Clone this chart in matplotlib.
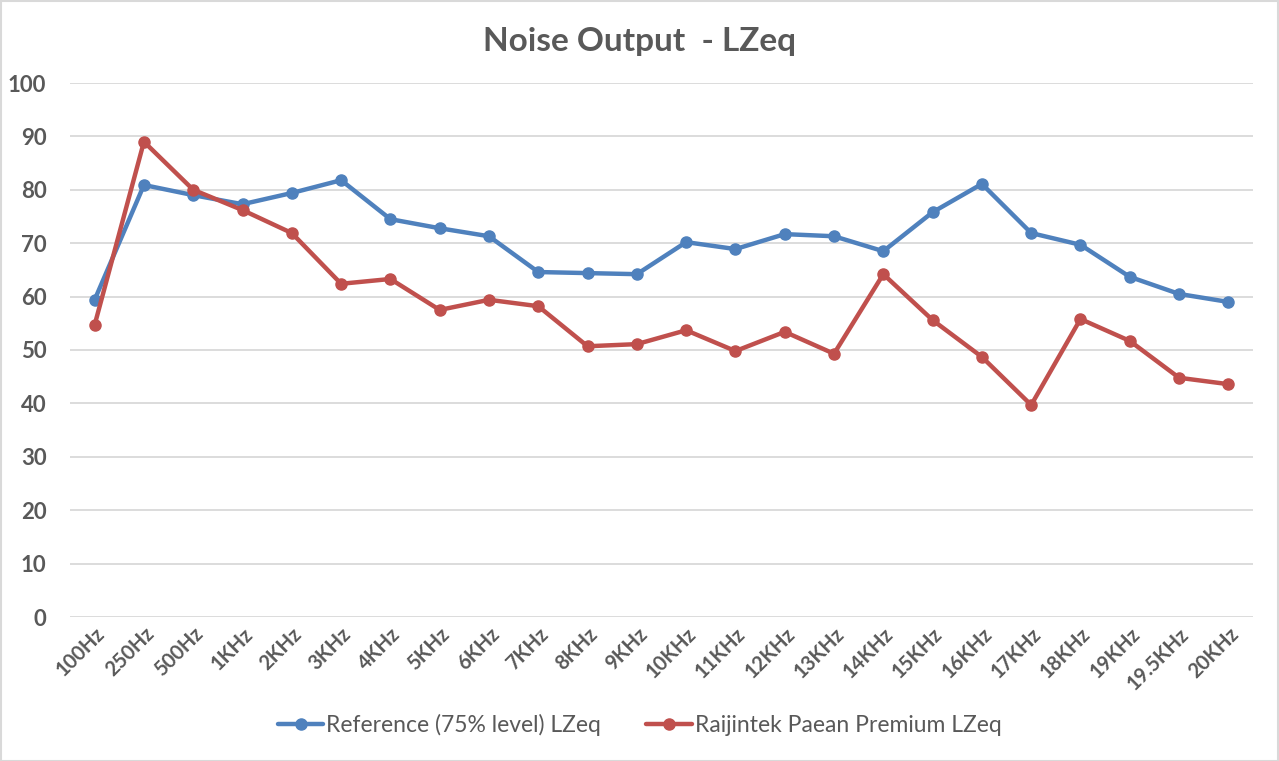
import matplotlib
matplotlib.use("Agg")
import matplotlib.pyplot as plt
from matplotlib.patches import Rectangle

# ── Data ─────────────────────────────────────────────────────────────────
FREQS = ["100Hz", "250Hz", "500Hz", "1KHz", "2KHz", "3KHz", "4KHz", "5KHz",
         "6KHz", "7KHz", "8KHz", "9KHz", "10KHz", "11KHz", "12KHz", "13KHz",
         "14KHz", "15KHz", "16KHz", "17KHz", "18KHz", "19KHz", "19.5KHz", "20KHz"]

REFERENCE = [59.4, 80.9, 79.0, 77.3, 79.4, 81.8, 74.5, 72.8, 71.3, 64.6, 64.4, 64.2,
             70.2, 68.9, 71.7, 71.3, 68.5, 75.8, 81.1, 71.9, 69.7, 63.7, 60.5, 59.0]

RAIJINTEK = [54.7, 89.0, 80.0, 76.2, 71.9, 62.4, 63.3, 57.5, 59.4, 58.2, 50.7, 51.1,
             53.7, 49.8, 53.4, 49.3, 64.2, 55.6, 48.7, 39.7, 55.8, 51.7, 44.8, 43.6]

LABELS = ["Reference (75% level) LZeq", "Raijintek Paean Premium LZeq"]
COLORS = ["#4F81BD", "#C0504D"]
TEXT_COLOR = "#595959"

plt.rcParams["font.family"] = ["Lato", "DejaVu Sans"]

W, H = 1279, 761
fig = plt.figure(figsize=(W / 100, H / 100), dpi=100)
ax = fig.add_axes([70 / W, 1 - 617 / H, (1253 - 70) / W, (617 - 83) / H])

x = list(range(len(FREQS)))
for series, label, color in zip([REFERENCE, RAIJINTEK], LABELS, COLORS):
    ax.plot(x, series, color=color, lw=3.2, marker="o", ms=8, label=label,
            solid_capstyle="round", zorder=3)

ax.set_xlim(-0.5, len(FREQS) - 0.5)
ax.set_ylim(0, 100)
ax.set_yticks(range(0, 101, 10))
ax.set_xticks(x)
ax.set_xticklabels(FREQS, rotation=45, ha="right", rotation_mode="anchor")
ax.grid(axis="y", color="#D9D9D9", lw=1.3)
ax.set_axisbelow(True)
for s in ax.spines.values():
    s.set_visible(False)
ax.tick_params(length=0, colors=TEXT_COLOR)
ax.tick_params(axis="y", labelsize=16, pad=17)
ax.tick_params(axis="x", labelsize=14.5, pad=5)
for lbl in ax.get_yticklabels() + ax.get_xticklabels():
    lbl.set_fontweight("bold")

fig.text(0.5, 1 - 42 / H, "Noise Output  - LZeq", ha="center", va="center",
         fontsize=24, fontweight="bold", color=TEXT_COLOR)

fig.legend(loc="center", bbox_to_anchor=(0.5, 1 - 725 / H), ncol=2,
           frameon=False, fontsize=16.5, handlelength=2.0, handletextpad=0.1,
           columnspacing=2.0, labelcolor=TEXT_COLOR)

fig.patches.append(Rectangle((0.5 / W, 0.5 / H), 1 - 1.5 / W, 1 - 1.5 / H,
                             transform=fig.transFigure, fill=False,
                             edgecolor="#D9D9D9", lw=1.5))

fig.savefig("out.png", dpi=100)
